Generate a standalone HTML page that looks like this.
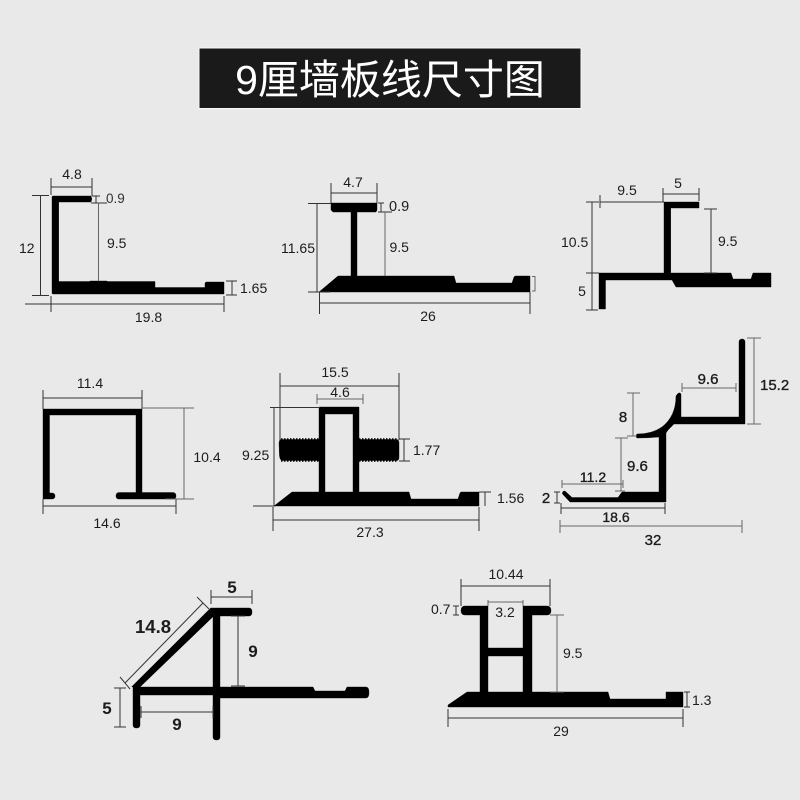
<!DOCTYPE html>
<html lang="zh">
<head>
<meta charset="utf-8">
<title>9厘墙板线尺寸图</title>
<style>
html,body{margin:0;padding:0;background:#e9e9e9}
svg{display:block;filter:blur(.35px)}
text{font-family:"Liberation Sans","Noto Sans CJK SC",sans-serif;font-size:14px;fill:#1c1c1c}
.m{text-anchor:middle}
.b{font-size:17px;font-weight:bold}
.s{font-size:15px;stroke:#1c1c1c;stroke-width:.35}
.l{stroke:#333;stroke-width:1;fill:none}
.g{stroke:#666;stroke-width:1;fill:none}
.k{fill:#000;stroke:#000;stroke-width:.4;stroke-linejoin:round}
</style>
</head>
<body>
<svg width="800" height="800" viewBox="0 0 800 800" xmlns="http://www.w3.org/2000/svg">
<rect width="800" height="800" fill="#e9e9e9"/>
<!-- Title -->
<rect x="199" y="48" width="382" height="60.500" fill="#1a1a1a" stroke="#f7f7f7" stroke-width="1"/>
<text x="390" y="94" class="m" style="font-size:41px;fill:#fff;font-family:'Liberation Sans','Noto Sans CJK SC',sans-serif">9厘墙板线尺寸图</text>

<!-- D1 -->
<path class="k" d="M53 196H91Q92.500 199 91 202H58.700V281.500H90V281H107V281.500H155V287.500H205V283L206 282H224V294H53Q52 294 52 293V197Q52 196 53 196Z"/>
<path class="l" d="M51 178V195M92 178V196M51 187H92M92 196H100M96 196V203M91 203H107M32 195.500H49M40.500 196V295M32 295.500H49M226 281H237M232 281V295M226 295H237M25 304H224M51 296V312M224 296V312"/>
<path class="g" d="M98.500 203V281"/>
<text x="72" y="179" class="m">4.8</text>
<text x="106" y="203" style="fill:#333;font-size:13.500px">0.9</text>
<text x="107" y="248">9.5</text>
<text x="19" y="253">12</text>
<text x="240" y="293">1.65</text>
<text x="148.500" y="322" class="m">19.8</text>

<!-- D2 -->
<path class="k" d="M331 203H377V210L376 212H357V276H454L456 283H512L514 277L515 276H530V292H319L338 276H351V212H333L331 210Z"/>
<path class="l" d="M331 183V203M377 183V203M331 193H377M378 203H384M381 203V212M378 212H392M317 203V292M308 203.500H331M308 292H330M319.500 303H530M319.500 292V314M530 292V314"/>
<path class="g" d="M385 212V276M532 276.500H535V291H532"/>
<text x="353" y="187" class="m">4.7</text>
<text x="389" y="211" style="font-size:14.500px">0.9</text>
<text x="389.500" y="252">9.5</text>
<text x="281" y="253">11.65</text>
<text x="428" y="321" class="m">26</text>

<!-- D3 -->
<path class="k" d="M664 202H699V208H670.700V273H731L733 279H751L753 273H771V287H676L672 280H605.500V309H599V273H664Z"/>
<path class="l" d="M600 195V208M600 202H664M663 188V202M699 188V201M663 194H699M704 209H717M711 209V273M704 273H717M586 202H599M592 202V310M586 273H599M586 310H598"/>
<text x="627" y="195" class="m">9.5</text>
<text x="678" y="188" class="m">5</text>
<text x="718" y="246">9.5</text>
<text x="561" y="247">10.5</text>
<text x="582" y="296" class="m">5</text>

<!-- D4 -->
<path class="k" d="M43 409H142V492.500H173Q176 492.500 176 496Q176 499 173 499H119Q116 499 116 496Q116 492.500 119 492.500H136V415H49.500V493H52Q55 493 55 496Q55 499 52 499H43Z"/>
<path class="l" d="M43 390V409M142 390V409M43 398H142M43 499V514M176 499V514M43 506H176"/>
<path class="g" d="M142 408H194M165 499H194M184 408V499"/>
<text x="90" y="388" class="m">11.4</text>
<text x="207" y="462" class="m">10.4</text>
<text x="107" y="528" class="m">14.6</text>

<!-- D5 -->
<path class="k" fill-rule="evenodd" d="M274 506L292 492H319V460.500H282Q280 460 279.500 456L279 444Q279 439.500 281 439.500H319V407H359V439.500H397Q399 440 399 443V457Q399 460.500 397 460.500H359V492H409L411 499H458L460 493L461 492H479V506ZM325 414V492H353V414Z"/>
<path stroke="#000" stroke-width="1.500" stroke-dasharray="1.500 1.500" fill="none" d="M281 439H319M359 439H398M281 461H319M359 461H398"/>
<path class="l" d="M280 373V440M399 373V440M280 386H399M270 407.500H320M274 407V506M253 506H275M399 439H410M399 461H410M404 439V461M479 492H491M485 492V506M273 507V531M479 507V531M273 520H479"/>
<path class="g" d="M317 394V404M363 394V404M317 399H363"/>
<text x="335" y="377" class="m">15.5</text>
<text x="340" y="397" class="m">4.6</text>
<text x="242" y="460">9.25</text>
<text x="413" y="455">1.77</text>
<text x="497" y="503">1.56</text>
<text x="370" y="537" class="m">27.3</text>

<!-- D6 -->
<path class="k" d="M739 342Q739 339 742 339Q745 339 745 342V424H674L668 430L666 433V502H570L562.500 494Q562 491 565 491L572 497.500H618L622 492H659V437Q648 438 637 438Q635 436 637 434Q652 434 662 427Q676 416 676 396Q679 391 681 394V417H739Z"/>
<path class="g" d="M754 338V424M747 338H761M747 424H761M682 383V392M736 383V392M682 388H736M633 393V436M627 393H640M627 436H637M621 438V491M615 438H628M615 491H625M562 480V488M623 480V488M562 484H623M560 520V533M742 520V533M560 526H742"/>
<path class="l" d="M554 492H560M557 492V503M554 503H560M561 503V514M665 503V514M561 508H665"/>
<text x="708" y="384" class="m s">9.6</text>
<text x="760" y="390" class="s">15.2</text>
<text x="623" y="422" class="m s">8</text>
<text x="627" y="471" class="s">9.6</text>
<text x="593" y="482" class="m s" style="font-size:14px">11.2</text>
<text x="546" y="503" class="m s">2</text>
<text x="616" y="522" class="m s" style="font-size:14px">18.6</text>
<text x="653" y="545" class="m s">32</text>

<!-- D7 -->
<path class="k" d="M210.700 608H249Q252 608 252 612Q252 616 249 616H220V687H313L315 691H345L347 687H366Q369 687 369 692.500Q369 698 366 698H220V737Q220 740 216.500 740Q213 740 213 737V695H140V725Q140 728 136.500 728Q133 728 133 725V687L131.700 686.700ZM213 616.700L140 687H213Z"/>
<path class="l" d="M211 590V604M252 590V604M211 597H252M203 603L125 683M197 597L209 609M120 677L130 689M231 616H245M238 616V686M231 686H245M114 688H126M120 688V727M114 727H126M141 706V718M213 706V718M141 712H213"/>
<text x="232" y="593" class="m b">5</text>
<text x="135" y="633" class="b" style="font-size:18.500px">14.8</text>
<text x="253" y="657" class="m b">9</text>
<text x="107" y="714" class="m b">5</text>
<text x="177" y="730" class="m b">9</text>

<!-- D8 -->
<path class="k" d="M465 606H488V648H523V606H547Q551 606 551 610.500Q551 615 547 615H532V692H608L610 699H666V692H683V707H448V705L467 692H480V615H465Q461 615 461 610.500Q461 606 465 606ZM488 656V692H523V656Z" fill-rule="evenodd"/>
<path class="l" d="M461 579V606M550 579V606M461 586H550M453 606H459M456 606V615M453 615H459M684 692H690M687 692V707M684 707H690M448 709V727M683 709V727M448 718H683"/>
<path class="g" d="M488 600V606M523 600V606M488 602H523M550 615H564M557 615V692M550 692H564"/>
<text x="506" y="579" class="m">10.44</text>
<text x="505" y="617" class="m">3.2</text>
<text x="431" y="614">0.7</text>
<text x="563" y="658">9.5</text>
<text x="692" y="705">1.3</text>
<text x="561" y="736" class="m">29</text>
</svg>
</body>
</html>
